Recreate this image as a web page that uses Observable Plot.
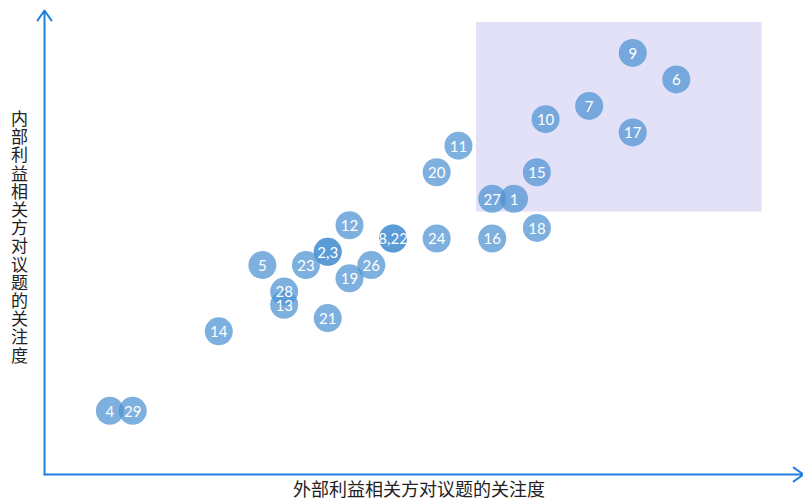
<!DOCTYPE html>
<html>
<head>
<meta charset="utf-8">
<script src="https://cdn.jsdelivr.net/npm/d3@7"></script>
<script src="https://cdn.jsdelivr.net/npm/@observablehq/plot@0.6"></script>
<style>
  html, body { margin: 0; padding: 0; background: #fff; }
  #chart svg { display: block; }
</style>
</head>
<body>
<div id="chart"></div>
<script>
// Issue labels as shown (coinciding issues share one circle position)
const labels   = ["9", "6", "7", "10", "17", "11", "20", "15", "27", "1", "12", "18", "8,22", "24", "16", "2,3", "5", "23", "26", "19", "28", "13", "21", "14", "4", "29"];
// Attention of external stakeholders (x)
const external = [27, 29, 25, 23, 27, 19, 18, 22.6, 20.55, 21.55, 14, 22.6, 16, 18, 20.55, 13, 10, 12, 15, 14, 11, 11, 13, 8, 3, 4.05];
// Attention of internal stakeholders (y)
const internal = [32, 30, 28, 27, 26, 25, 23, 23, 21, 21, 19, 18.8, 18, 18, 18, 17, 16, 16, 16, 15, 14, 13, 12, 11, 5, 5];
// Highlighted zone (high external & high internal attention)
const zoneX = [19.83, 32.94];
const zoneY = [20.0, 34.3];
const boldLabels = ["9", "6", "7"];
const xTitle = "外部利益相关方对议题的关注度";
const yTitle = "内部利益相关方对议题的关注度";
const xDomain = [0, 34.7];
const yDomain = [0.2, 35.2];

const groups = labels.map((l, i) => ({label: l, x: external[i], y: internal[i]}));
const issues = groups.flatMap(g => g.label.split(",").map(id => ({id, x: g.x, y: g.y})));

const axisColor = "#1f80e0";

const chart = Plot.plot({
  width: 803,
  height: 504,
  margin: 0,
  x: {domain: xDomain, range: [44, 800], axis: null},
  y: {domain: yDomain, range: [474, 10], axis: null},
  marks: [
    Plot.rect([{x1: zoneX[0], x2: zoneX[1], y1: zoneY[0], y2: zoneY[1]}],
      {x1: "x1", x2: "x2", y1: "y1", y2: "y2", fill: "#e3e1f8"}),
    Plot.arrow([{x1: xDomain[0], y1: yDomain[0], x2: xDomain[0], y2: yDomain[1]}],
      {x1: "x1", y1: "y1", x2: "x2", y2: "y2", stroke: axisColor, strokeWidth: 2, headLength: 9, headAngle: 70}),
    Plot.arrow([{x1: xDomain[0], y1: yDomain[0], x2: 34.84, y2: yDomain[0]}],
      {x1: "x1", y1: "y1", x2: "x2", y2: "y2", stroke: axisColor, strokeWidth: 2, headLength: 9, headAngle: 70}),
    Plot.dot(issues, {x: "x", y: "y", r: 14, fill: "#4e93d3", fillOpacity: 0.73, stroke: "none"}),
    Plot.text(groups, {
      x: "x", y: "y", text: "label", fill: "white", fontSize: 15, dy: 1,
      fontFamily: "Lato, 'Open Sans', sans-serif",
      fontWeight: d => boldLabels.includes(d.label) ? "bold" : "normal"
    }),
    Plot.text([xTitle], {
      frameAnchor: "bottom", lineAnchor: "middle", dx: 17, dy: -14,
      fontSize: 18, fill: "#222", fontFamily: "'Noto Sans CJK SC', sans-serif"
    }),
    // Vertical title: one upright character per line, as in the reference
    Plot.text([yTitle.split("").join("\n")], {
      frameAnchor: "left", textAnchor: "middle", lineAnchor: "middle", dx: 19, dy: -15,
      lineHeight: 1.07, fontSize: 17, fill: "#222", fontFamily: "'Noto Sans CJK SC', sans-serif"
    })
  ]
});
document.getElementById("chart").appendChild(chart);
</script>
</body>
</html>
